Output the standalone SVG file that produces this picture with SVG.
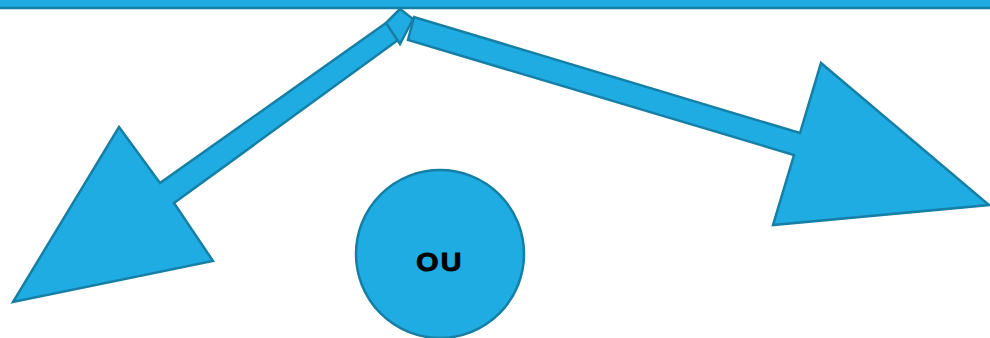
<svg xmlns="http://www.w3.org/2000/svg" width="990" height="338" viewBox="0 0 990 338">
<style>
.s{fill:#1EACE2;stroke:#167FA6;stroke-width:2.5;stroke-linejoin:miter}
.t{font-family:"Liberation Sans",Arial,sans-serif;font-weight:bold;font-size:26px;fill:#000;stroke:#000;stroke-width:1;letter-spacing:2px}
</style>
<rect id="bar" class="s" x="-5" y="-5" width="1000" height="13"/>
<g id="connectors">
<polygon class="s" points="386,23 398,40 174,203 213,261 13,302 119,127 160,183"/>
<polygon class="s" points="414,17 408,40 794,155 773,225 989,205 821,63 800,133"/>
<polygon class="s" points="400,9 386,23 400,44 413,19"/>
</g>
<g id="ou">
<circle class="s" cx="440" cy="254" r="84"/>
<text class="t" x="440" y="271" text-anchor="middle" transform="translate(440 0) scale(1.1 1) translate(-440 0)">OU</text>
</g>
</svg>
